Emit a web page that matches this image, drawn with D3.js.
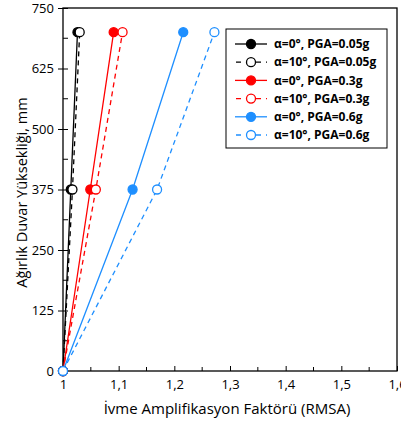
<!DOCTYPE html>
<html>
<head>
<meta charset="utf-8">
<script src="https://d3js.org/d3.v7.min.js"></script>
<style>
body { margin: 0; background: #fff; }
text { font-family: "Open Sans", "Noto Sans", sans-serif; }
</style>
</head>
<body>
<div id="chart"></div>
<script>
// heights (mm)
const heights = [0, 375, 700];
// series: amplification factor at each height
const seriesNames = ["α=0°, PGA=0.05g", "α=10°, PGA=0.05g", "α=0°, PGA=0.3g", "α=10°, PGA=0.3g", "α=0°, PGA=0.6g", "α=10°, PGA=0.6g"];
const s005a0 = [1, 1.014, 1.026];
const s005a10 = [1, 1.017, 1.030];
const s03a0 = [1, 1.049, 1.091];
const s03a10 = [1, 1.059, 1.107];
const s06a0 = [1, 1.125, 1.216];
const s06a10 = [1, 1.169, 1.272];
const xTicks = [1, 1.1, 1.2, 1.3, 1.4, 1.5, 1.6];
const yTicks = [0, 125, 250, 375, 500, 625, 750];

const colors = ["#000000", "#000000", "#ff0000", "#ff0000", "#1e8fff", "#1e8fff"];
const allSeries = [s005a0, s005a10, s03a0, s03a10, s06a0, s06a10];
const series = allSeries.map((vals, i) => ({
    name: seriesNames[i],
    color: colors[i],
    dashed: i % 2 === 1,
    pts: vals.map((v, j) => ({ x: v, y: heights[j] }))
}));

const W = 401, H = 423;
const margin = { top: 8, right: 4, bottom: 52, left: 63 };
const width = W - margin.left - margin.right;
const height = H - margin.top - margin.bottom;

const svg = d3.select("#chart").append("svg")
    .attr("width", W)
    .attr("height", H);

const g = svg.append("g")
    .attr("transform", `translate(${margin.left},${margin.top})`);

const x = d3.scaleLinear().domain([1, 1.6]).range([0, width]);
const y = d3.scaleLinear().domain([0, 750]).range([height, 0]);

// minor ticks
const xMinor = d3.range(1.05, 1.6, 0.1);
const yMinor = d3.range(62.5, 750, 125);

g.selectAll(".xminor").data(xMinor).join("line")
    .attr("x1", d => x(d)).attr("x2", d => x(d))
    .attr("y1", height).attr("y2", height - 4)
    .attr("stroke", "#000").attr("stroke-width", 1);

g.selectAll(".yminor").data(yMinor).join("line")
    .attr("x1", 0).attr("x2", 5)
    .attr("y1", d => y(d)).attr("y2", d => y(d))
    .attr("stroke", "#000").attr("stroke-width", 1);

// axes
const xAxis = g.append("g")
    .attr("transform", `translate(0,${height})`)
    .call(d3.axisBottom(x).tickValues(xTicks).tickSizeInner(-5).tickSizeOuter(0).tickPadding(9)
        .tickFormat(d => String(d).replace(".", ",")));
xAxis.select(".domain").remove();
xAxis.selectAll("text").style("font-size", "13px").attr("fill", "#000");

const yAxis = g.append("g")
    .call(d3.axisLeft(y).tickValues(yTicks).tickSizeOuter(0).tickSize(0).tickPadding(9));
yAxis.select(".domain").remove();
yAxis.selectAll("text").style("font-size", "13px").attr("fill", "#000");
yAxis.selectAll(".tick").append("line")
    .attr("x1", -5).attr("x2", 5)
    .attr("stroke", "#000").attr("stroke-width", 1);

// frame
g.append("rect")
    .attr("width", width).attr("height", height)
    .attr("fill", "none").attr("stroke", "#000").attr("stroke-width", 1.3);

// lines
const line = d3.line().x(d => x(d.x)).y(d => y(d.y));

g.selectAll(".series-line").data(series).join("path")
    .attr("class", "series-line")
    .attr("fill", "none")
    .attr("stroke", d => d.color)
    .attr("stroke-width", 1.3)
    .attr("stroke-dasharray", d => d.dashed ? "5,4" : null)
    .attr("d", d => line(d.pts));

series.forEach(s => {
    g.selectAll(null).data(s.pts).join("circle")
        .attr("cx", d => x(d.x)).attr("cy", d => y(d.y))
        .attr("r", 4.5)
        .attr("fill", s.dashed ? "#fff" : s.color)
        .attr("stroke", s.color)
        .attr("stroke-width", 1.3);
});

// axis titles
svg.append("text")
    .attr("x", margin.left + width / 2 - 3)
    .attr("y", 414)
    .attr("text-anchor", "middle")
    .style("font-size", "15px")
    .text("İvme Amplifikasyon Faktörü (RMSA)");

svg.append("text")
    .attr("transform", "rotate(-90)")
    .attr("x", -(margin.top + height / 2) - 3)
    .attr("y", 27)
    .attr("text-anchor", "middle")
    .style("font-size", "14.5px")
    .text("Ağırlık Duvar Yüksekliği, mm");

// legend
const lg = svg.append("g").attr("transform", "translate(226,29)");
lg.append("rect")
    .attr("width", 161).attr("height", 119)
    .attr("fill", "#fff").attr("stroke", "#000").attr("stroke-width", 1);

const item = lg.selectAll(".legend").data(series).join("g")
    .attr("class", "legend")
    .attr("transform", (d, i) => `translate(0,${15 + i * 18.2})`);

item.append("line")
    .attr("x1", 9).attr("x2", 41)
    .attr("stroke", d => d.color).attr("stroke-width", 1.3)
    .attr("stroke-dasharray", d => d.dashed ? "5,5" : null)
    .attr("stroke-dashoffset", d => d.dashed ? -1 : 0);
item.append("circle")
    .attr("cx", 25).attr("r", 4.5)
    .attr("fill", d => d.dashed ? "#fff" : d.color)
    .attr("stroke", d => d.color).attr("stroke-width", 1.3);
item.append("text")
    .attr("x", 48).attr("dy", "0.35em")
    .style("font-size", "12px").style("font-weight", "bold")
    .text(d => d.name);
</script>
</body>
</html>
